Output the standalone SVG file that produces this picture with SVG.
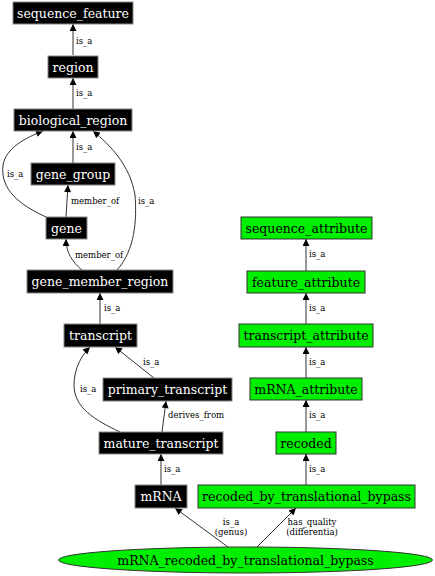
<svg xmlns="http://www.w3.org/2000/svg" width="435" height="576" viewBox="0 0 435 576">
<defs>
<marker id="ah" viewBox="0 0 10 10" refX="10" refY="5" markerWidth="8" markerHeight="7" markerUnits="userSpaceOnUse" orient="auto">
<path d="M0,0 L10,5 L0,10 z" fill="#000"/>
</marker>
<style>
.b rect{fill:#000;stroke:#888;stroke-width:1}
.g rect,.g ellipse{fill:#00ee00;stroke:#333;stroke-width:1}
.b text{fill:#fff;font-family:"DejaVu Serif",serif;font-size:12.5px;text-anchor:middle}
.g text{fill:#000;font-family:"DejaVu Serif",serif;font-size:12.5px;text-anchor:middle}
#edges path{fill:none;stroke:#333;stroke-width:1;marker-end:url(#ah)}
#edges text{font-family:"DejaVu Serif",serif;font-size:8.5px;fill:#000}
</style>
</defs>
<rect width="435" height="576" fill="#fff"/>
<g id="edges">
<path d="M73,55 L73,24"/><text x="76" y="44">is_a</text>
<path d="M73,109 L73,78"/><text x="76" y="96">is_a</text>
<path d="M73,163 L73,131"/><text x="76" y="150">is_a</text>
<path d="M46,217 C20,205 0,190 3,165 C6,148 25,138 43,131"/><text x="7" y="177">is_a</text>
<path d="M66,217 L68,185"/><text x="71" y="204">member_of</text>
<path d="M82,270 C72,262 66,252 66,239"/><text x="75" y="258">member_of</text>
<path d="M117,270 C135,250 137,220 135,195 C130,165 110,145 93,131"/><text x="138" y="204">is_a</text>
<path d="M100,324 L100,293"/><text x="104" y="311">is_a</text>
<path d="M154,378 L115,347"/><text x="143" y="365">is_a</text>
<path d="M120,432 C95,420 74,408 74,385 C74,368 82,355 90,347"/><text x="80" y="392">is_a</text>
<path d="M162,432 L166,401"/><text x="168" y="418">derives_from</text>
<path d="M161,485 L161,454"/><text x="164" y="472">is_a</text>
<path d="M228,547 L175,508"/><text x="231" y="525" text-anchor="middle">is_a</text><text x="231" y="535" text-anchor="middle">(genus)</text>
<path d="M257,547 L296,508"/><text x="312" y="525" text-anchor="middle">has_quality</text><text x="312" y="535" text-anchor="middle">(differentia)</text>
<path d="M306,271 L306,239"/><text x="309" y="257">is_a</text>
<path d="M306,324 L306,293"/><text x="309" y="311">is_a</text>
<path d="M306,378 L306,347"/><text x="309" y="365">is_a</text>
<path d="M306,432 L306,400"/><text x="309" y="418">is_a</text>
<path d="M306,485 L306,454"/><text x="309" y="472">is_a</text>
</g>
<g id="sequence_feature" class="b"><rect x="13" y="2" width="120" height="22"/><text x="73" y="17.5">sequence_feature</text></g>
<g id="region" class="b"><rect x="48" y="56" width="50" height="22"/><text x="73" y="71.5">region</text></g>
<g id="biological_region" class="b"><rect x="14" y="109" width="118" height="22"/><text x="73" y="124.5">biological_region</text></g>
<g id="gene_group" class="b"><rect x="31" y="163" width="84" height="22"/><text x="73" y="178.5">gene_group</text></g>
<g id="gene" class="b"><rect x="46" y="217" width="41" height="22"/><text x="66.5" y="232.5">gene</text></g>
<g id="gene_member_region" class="b"><rect x="27" y="270" width="146" height="23"/><text x="100" y="286">gene_member_region</text></g>
<g id="transcript" class="b"><rect x="64" y="324" width="73" height="23"/><text x="100.5" y="340">transcript</text></g>
<g id="primary_transcript" class="b"><rect x="103" y="378" width="129" height="23"/><text x="167.5" y="394">primary_transcript</text></g>
<g id="mature_transcript" class="b"><rect x="99" y="432" width="124" height="22"/><text x="161" y="447.5">mature_transcript</text></g>
<g id="mRNA" class="b"><rect x="135" y="485" width="52" height="23"/><text x="161" y="501">mRNA</text></g>
<g id="sequence_attribute" class="g"><rect x="241" y="217" width="131" height="22"/><text x="306.5" y="232.5">sequence_attribute</text></g>
<g id="feature_attribute" class="g"><rect x="247" y="271" width="118" height="22"/><text x="306" y="286.5">feature_attribute</text></g>
<g id="transcript_attribute" class="g"><rect x="239" y="324" width="134" height="23"/><text x="306" y="340">transcript_attribute</text></g>
<g id="mRNA_attribute" class="g"><rect x="250" y="378" width="112" height="22"/><text x="306" y="393.5">mRNA_attribute</text></g>
<g id="recoded" class="g"><rect x="276" y="432" width="60" height="22"/><text x="306" y="447.5">recoded</text></g>
<g id="recoded_by_translational_bypass" class="g"><rect x="198" y="485" width="217" height="23"/><text x="306.5" y="501">recoded_by_translational_bypass</text></g>
<g id="mRNA_recoded_by_translational_bypass" class="g"><ellipse cx="245.5" cy="560" rx="187" ry="13"/><text x="245.5" y="564.5">mRNA_recoded_by_translational_bypass</text></g>
</svg>
